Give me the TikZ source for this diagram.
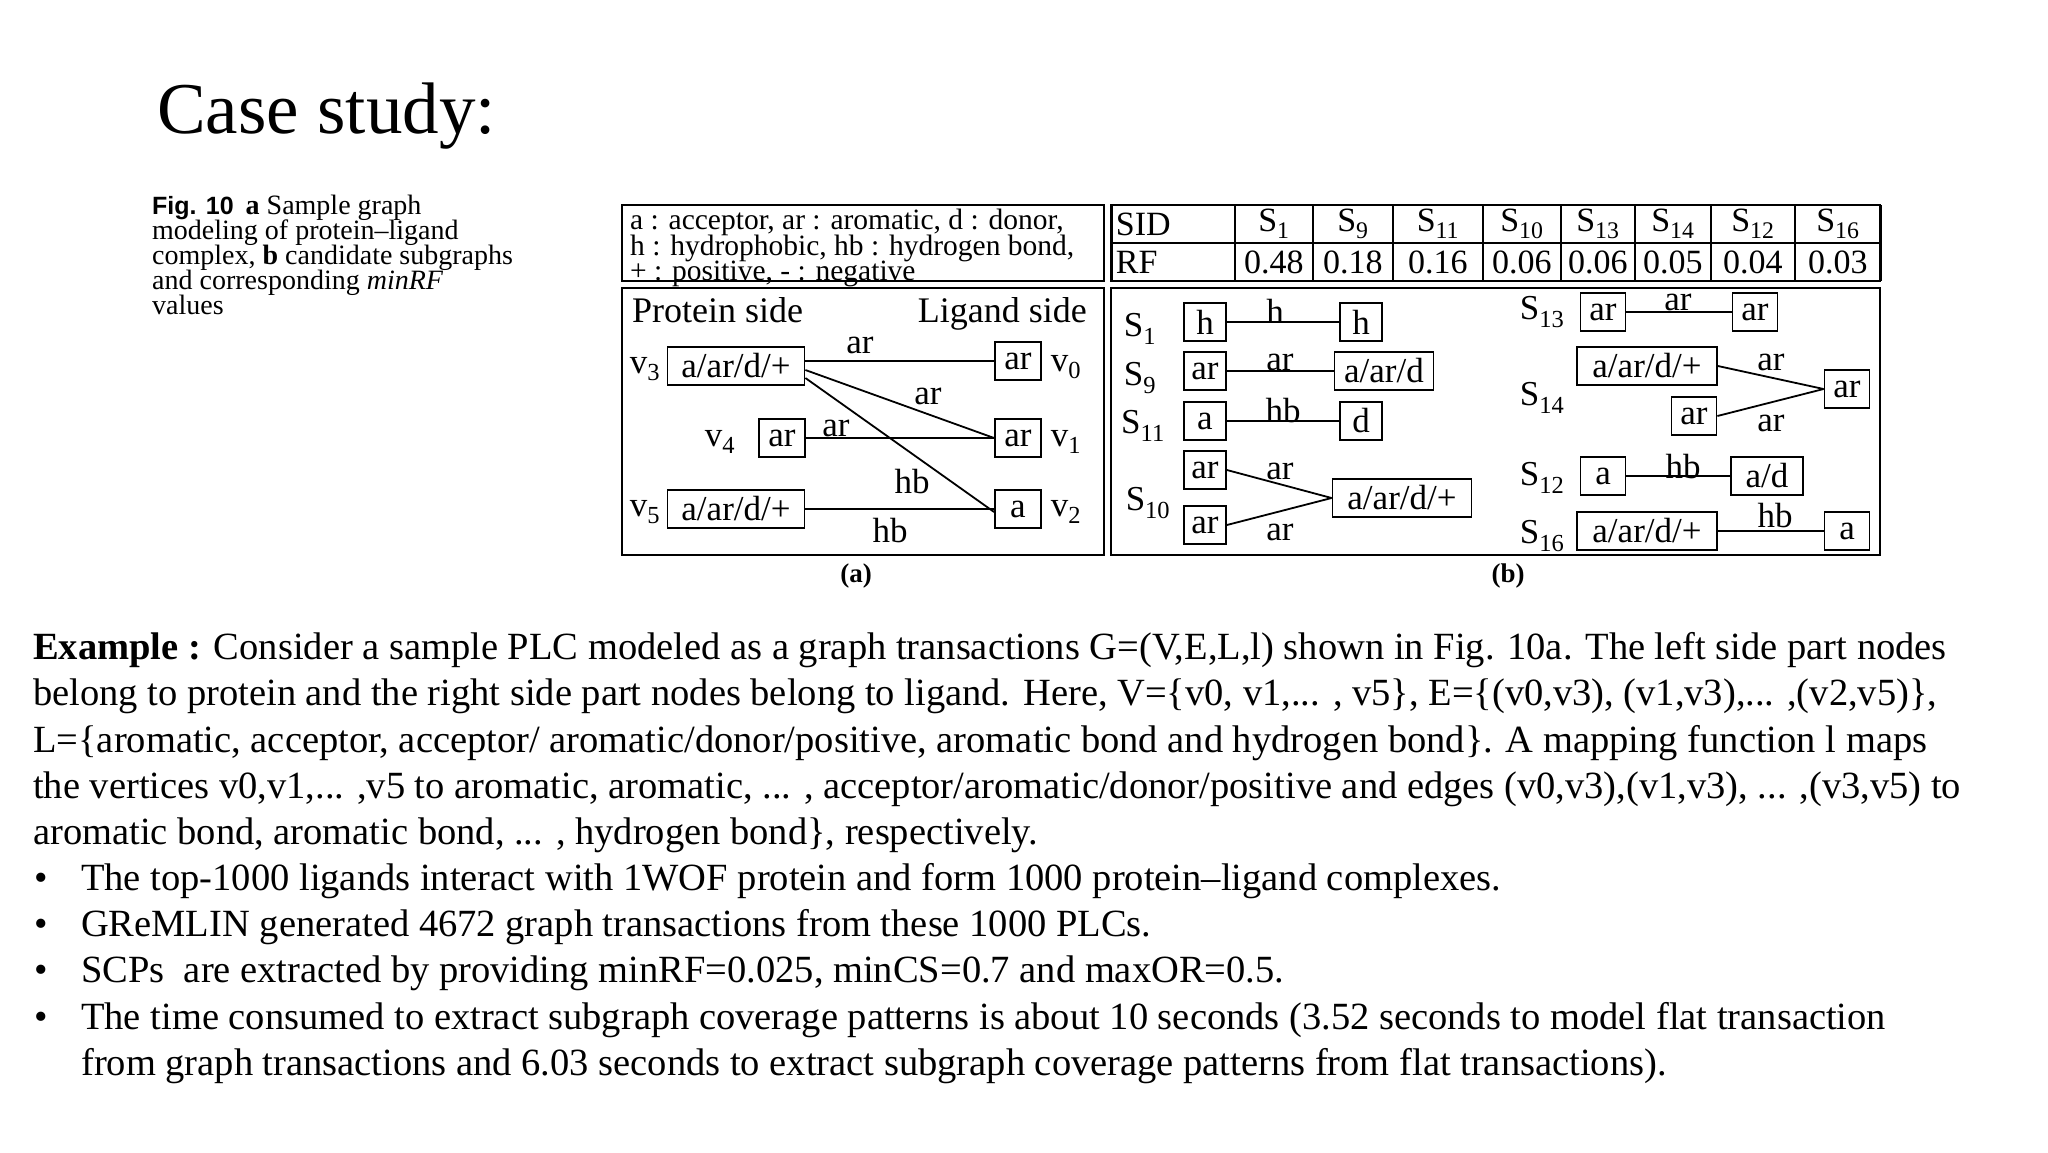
\documentclass[tikz,border=0pt]{standalone}
\usepackage{fontspec}
\setmainfont{Liberation Serif}
\newfontfamily\capsans{Liberation Sans}
\begin{document}
\begin{tikzpicture}[x=1pt,y=-1pt,
  bx/.style={draw,line width=1.8pt,inner sep=0pt,minimum height=38pt,font=\fontsize{35}{35}\selectfont},
  lb/.style={inner sep=0pt,font=\fontsize{35}{35}\selectfont},
  ed/.style={line width=1.8pt},
  frame/.style={draw,line width=2.4pt},
  cell/.style={draw,line width=1.8pt,inner sep=0pt,minimum height=37pt,font=\fontsize{34}{34}\selectfont},
  body/.style={anchor=base west,inner sep=0pt,font=\fontsize{38.5}{38.5}\selectfont},
  captext/.style={anchor=base west,inner sep=0pt,font=\fontsize{28}{28}\selectfont}]
\useasboundingbox (0,0) rectangle (2048,1152);
\fill[white] (0,0) rectangle (2048,1152);
% title
\node[anchor=base west,inner sep=0pt,font=\fontsize{73}{73}\selectfont] (title) at (157,133) {Case study:};
% caption
\node[captext] (c1) at (152,214) {{\capsans\bfseries\fontsize{25}{25}\selectfont Fig. 10}\hspace{12pt}\textbf{a} Sample graph};
\node[captext] (c2) at (152,239) {modeling of protein--ligand};
\node[captext] (c3) at (152,264) {complex, \textbf{b} candidate subgraphs};
\node[captext] (c4) at (152,289) {and corresponding \textit{minRF}};
\node[captext] (c5) at (152,314) {values};
% (a) frames
\draw[frame] (622,205) rectangle (1104,281);
\draw[frame] (622,288) rectangle (1104,555);
\node[anchor=base west,inner sep=0pt,font=\fontsize{29.5}{29.5}\selectfont] (lg1) at (630,229) {a : acceptor, ar : aromatic, d : donor,};
\node[anchor=base west,inner sep=0pt,font=\fontsize{29.5}{29.5}\selectfont] (lg2) at (630,255) {h : hydrophobic, hb : hydrogen bond,};
\node[anchor=base west,inner sep=0pt,font=\fontsize{29.5}{29.5}\selectfont] (lg3) at (630,280) {+ : positive, - : negative};
\node[anchor=base west,inner sep=0pt,font=\fontsize{36}{36}\selectfont] (ps) at (632,322) {Protein side};
\node[anchor=base east,inner sep=0pt,font=\fontsize{36}{36}\selectfont] (ls) at (1087,322) {Ligand side};
\node[bx,minimum width=137pt] (v3) at (736,366) {a/ar/d/+};
\node[bx,minimum width=46pt] (v4) at (782,438) {ar};
\node[bx,minimum width=137pt] (v5) at (736,509) {a/ar/d/+};
\node[bx,minimum width=46pt] (v0) at (1018,361) {ar};
\node[bx,minimum width=46pt] (v1) at (1018,438) {ar};
\node[bx,minimum width=46pt] (v2) at (1018,509) {a};
\node[lb] (n3) at (645,369) {v\textsubscript{3}};
\node[lb] (n4) at (720,442) {v\textsubscript{4}};
\node[lb] (n5) at (645,512) {v\textsubscript{5}};
\node[lb] (n0) at (1066,367) {v\textsubscript{0}};
\node[lb] (n1) at (1066,442) {v\textsubscript{1}};
\node[lb] (n2) at (1066,512) {v\textsubscript{2}};
\draw[ed] (v3.east |- v0.west) -- (v0.west);
\draw[ed] ([yshift=-4pt]v3.east) -- (v1.west);
\draw[ed] ([yshift=-12pt]v3.east) -- ([yshift=-3pt]v2.west);
\draw[ed] (v4.east) -- (v1.west);
\draw[ed] (v5.east) -- (v2.west);
\node[lb] (la1) at (860,345) {ar};
\node[lb] (la2) at (928,396) {ar};
\node[lb] (la3) at (836,428) {ar};
\node[lb] (la4) at (912,482) {hb};
\node[lb] (la5) at (890,531) {hb};
\node[inner sep=0pt,font=\bfseries\fontsize{27}{27}\selectfont] (capa) at (856,576) {(a)};
% (b) table
\node[cell,minimum width=123pt,anchor=west] (h0) at (1111,224) {\makebox[115pt][l]{SID}};
\node[cell,minimum width=123pt,anchor=west] (r0) at (1111,262) {\makebox[115pt][l]{RF}};
\foreach \xa/\xb/\s/\v [count=\i] in {1234/1312/1/0.48,1312/1392/9/0.18,1392/1482/11/0.16,1482/1560/10/0.06,1560/1634/13/0.06,1634/1710/14/0.05,1710/1794/12/0.04,1794/1880/16/0.03}{
  \node[cell,minimum width={\xb-\xa},anchor=west] (h\i) at (\xa,224) {S\textsubscript{\s}};
  \node[cell,minimum width={\xb-\xa},anchor=west] (r\i) at (\xa,262) {\v};
}
\draw[frame] (1111,205) rectangle (1880,281);
\draw[frame] (1111,288) rectangle (1880,555);
% S1
\node[bx,minimum width=42pt] (a1) at (1205,322) {h};
\node[bx,minimum width=42pt] (b1) at (1361,322) {h};
\draw[ed] (a1) -- (b1);
\node[lb] (e1) at (1275,311) {h};
\node[lb] (s1) at (1140,329) {S\textsubscript{1}};
% S9
\node[bx,minimum width=42pt] (a9) at (1205,371) {ar};
\node[bx,minimum width=99pt] (b9) at (1384,371) {a/ar/d};
\draw[ed] (a9) -- (b9);
\node[lb] (e9) at (1280,362) {ar};
\node[lb] (s9) at (1140,378) {S\textsubscript{9}};
% S11
\node[bx,minimum width=42pt] (a11) at (1205,421) {a};
\node[bx,minimum width=42pt] (b11) at (1361,421) {d};
\draw[ed] (a11) -- (b11);
\node[lb] (e11) at (1283,411) {hb};
\node[lb] (s11) at (1143,426) {S\textsubscript{11}};
% S10
\node[bx,minimum width=42pt] (a10) at (1205,470) {ar};
\node[bx,minimum width=42pt] (c10) at (1205,525) {ar};
\node[bx,minimum width=139pt] (b10) at (1402,498) {a/ar/d/+};
\draw[ed] (a10.east) -- (b10.west);
\draw[ed] (c10.east) -- (b10.west);
\node[lb] (e10) at (1280,471) {ar};
\node[lb] (f10) at (1280,532) {ar};
\node[lb] (s10) at (1148,503) {S\textsubscript{10}};
% S13
\node[bx,minimum width=45pt] (a13) at (1603,312) {ar};
\node[bx,minimum width=45pt] (b13) at (1755,312) {ar};
\draw[ed] (a13) -- (b13);
\node[lb] (e13) at (1678,302) {ar};
\node[lb] (s13) at (1542,312) {S\textsubscript{13}};
% S14
\node[bx,minimum width=140pt] (a14) at (1647,366) {a/ar/d/+};
\node[bx,minimum width=45pt] (c14) at (1694,416) {ar};
\node[bx,minimum width=45pt] (b14) at (1847,389) {ar};
\draw[ed] (a14.east) -- (b14.west);
\draw[ed] (c14.east) -- (b14.west);
\node[lb] (e14) at (1771,362) {ar};
\node[lb] (f14) at (1771,423) {ar};
\node[lb] (s14) at (1542,398) {S\textsubscript{14}};
% S12
\node[bx,minimum width=45pt] (a12) at (1603,476) {a};
\node[bx,minimum width=72pt] (b12) at (1767,476) {a/d};
\draw[ed] (a12) -- (b12);
\node[lb] (e12) at (1683,467) {hb};
\node[lb] (s12) at (1542,478) {S\textsubscript{12}};
% S16
\node[bx,minimum width=140pt] (a16) at (1647,531) {a/ar/d/+};
\node[bx,minimum width=45pt] (b16) at (1847,531) {a};
\draw[ed] (a16) -- (b16);
\node[lb] (e16) at (1775,516) {hb};
\node[lb] (s16) at (1542,536) {S\textsubscript{16}};
\node[inner sep=0pt,font=\bfseries\fontsize{27}{27}\selectfont] (capb) at (1508,576) {(b)};
% body text
\node[body] (t1) at (33,659) {\textbf{Example :} Consider a sample PLC modeled as a graph transactions G=(V,E,L,l) shown in Fig. 10a. The left side part nodes};
\node[body] (t2) at (33,705) {belong to protein and the right side part nodes belong to ligand. Here, V=\{v0, v1,... , v5\}, E=\{(v0,v3), (v1,v3),... ,(v2,v5)\},};
\node[body] (t3) at (33,752) {L=\{aromatic, acceptor, acceptor/ aromatic/donor/positive, aromatic bond and hydrogen bond\}. A mapping function l maps};
\node[body] (t4) at (33,798) {the vertices v0,v1,... ,v5 to aromatic, aromatic, ... , acceptor/aromatic/donor/positive and edges (v0,v3),(v1,v3), ... ,(v3,v5) to};
\node[body] (t5) at (33,844) {aromatic bond, aromatic bond, ... , hydrogen bond\}, respectively.};
\foreach \yy/\tx [count=\k] in {
 890/{The top-1000 ligands interact with 1WOF protein and form 1000 protein--ligand complexes.},
 936/{GReMLIN generated 4672 graph transactions from these 1000 PLCs.},
 982/{SCPs\ \ are extracted by providing minRF=0.025, minCS=0.7 and maxOR=0.5.},
 1029/{The time consumed to extract subgraph coverage patterns is about 10 seconds (3.52 seconds to model flat transaction}}{
  \node[body] (bu\k) at (34,\yy) {\textbullet};
  \node[body] (bt\k) at (81,\yy) {\tx};
}
\node[body] (bt5) at (81,1075) {from graph transactions and 6.03 seconds to extract subgraph coverage patterns from flat transactions).};
\end{tikzpicture}
\end{document}
